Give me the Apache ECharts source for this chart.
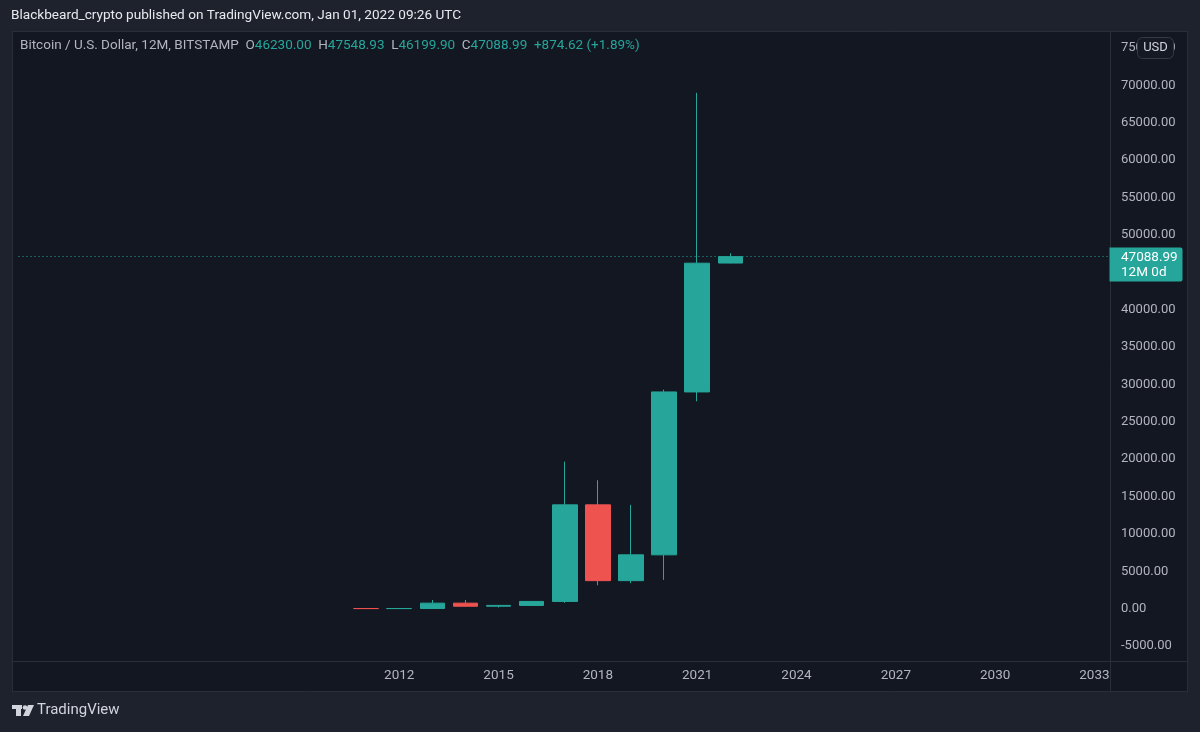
<!DOCTYPE html>
<html><head><meta charset="utf-8">
<script src="https://cdn.jsdelivr.net/npm/echarts@6/dist/echarts.min.js"></script>
<style>html,body{margin:0;padding:0;background:#1e222d;overflow:hidden}#c{width:1200px;height:732px;}</style>
</head><body><div id="c"></div>
<script>
// axis categories (yearly bars, visible time range)
const axisYears = ['2001','2002','2003','2004','2005','2006','2007','2008','2009','2010','2011','2012','2013','2014','2015','2016','2017','2018','2019','2020','2021','2022','2023','2024','2025','2026','2027','2028','2029','2030','2031','2032','2033'];
const xTickLabels = ['2012','2015','2018','2021','2024','2027','2030','2033'];
const candleYears = ['2011','2012','2013','2014','2015','2016','2017','2018','2019','2020','2021','2022'];
const opens  = [10.9, 4.72, 13.5, 732, 320, 430, 963, 13880, 3742, 7195, 28990, 46230.00];
const closes = [4.72, 13.5, 732, 320, 430, 963, 13880, 3742, 7195, 28990, 46214.37, 47088.99];
const lows   = [2.2, 3.9, 13.2, 275, 152, 350, 775, 3122, 3400, 3850, 27734, 46199.90];
const highs  = [15.0, 16.41, 1163, 1165, 495, 980, 19666, 17176, 13880, 29300, 69000, 47548.93];
const yTicks = {min: -5000, max: 75000, step: 5000};

const UP = '#26a69a', DOWN = '#ef5350', TXT = '#b2b5be', BORDER = '#2a2e39';
const candleData = candleYears.map((y, i) => [y, opens[i], closes[i], lows[i], highs[i]]);
const n = closes.length - 1;
const lastClose = closes[n];
const chg = closes[n] - closes[n - 1];
const pct = chg / closes[n - 1] * 100;

const chart = echarts.init(document.getElementById('c'), null, {renderer: 'canvas'});
const FONT = 'Roboto, "Noto Sans", sans-serif';

const headerText = '{t|Bitcoin / U.S. Dollar, 12M, BITSTAMP}  {k|O}{v|' + opens[n].toFixed(2) + '}  {k|H}{v|' + highs[n].toFixed(2) +
  '}  {k|L}{v|' + lows[n].toFixed(2) + '}  {k|C}{v|' + closes[n].toFixed(2) + '}  {v|' + (chg >= 0 ? '+' : '') + chg.toFixed(2) + ' (' + (pct >= 0 ? '+' : '') + pct.toFixed(2) + '%)}';

function staticGraphics(py) {
  return [
    {id: 'pane', type: 'rect', z: -10, shape: {x: 12.5, y: 31.5, width: 1175, height: 660}, style: {fill: '#131722', stroke: BORDER, lineWidth: 1}},
    {id: 'vdiv', type: 'line', z: -5, shape: {x1: 1110.5, y1: 31, x2: 1110.5, y2: 692}, style: {stroke: BORDER, lineWidth: 1}},
    {id: 'hdiv', type: 'line', z: -5, shape: {x1: 12, y1: 661.5, x2: 1188, y2: 661.5}, style: {stroke: BORDER, lineWidth: 1}},
    {id: 'title', type: 'text', left: 11, top: 9, style: {text: 'Blackbeard_crypto published on TradingView.com, Jan 01, 2022 09:26 UTC', fill: '#e8e9ee', font: '13.6px ' + FONT}},
    {id: 'header', type: 'text', left: 20, top: 39, z: 50, style: {
      text: headerText, font: '13.5px ' + FONT,
      rich: {t: {fill: '#b2b5be', fontSize: 13.5, fontFamily: FONT}, k: {fill: '#b2b5be', fontSize: 13.5, fontFamily: FONT}, v: {fill: UP, fontSize: 13.5, fontFamily: FONT}}
    }},
    {id: 'usdBox', type: 'rect', z: 100, zlevel: 1, shape: {x: 1137.5, y: 37.5, width: 36, height: 21, r: 5}, style: {fill: '#151924', stroke: '#363a45', lineWidth: 1}},
    {id: 'usdTxt', type: 'text', z: 101, zlevel: 1, style: {x: 1155.5, y: 48, text: 'USD', fill: '#d1d4dc', font: '13px ' + FONT, align: 'center', verticalAlign: 'middle'}},
    {id: 'logoA', type: 'rect', shape: {x: 12, y: 705, width: 10, height: 4}, style: {fill: '#d1d4dc'}},
    {id: 'logoB', type: 'rect', shape: {x: 16, y: 705, width: 5, height: 11}, style: {fill: '#d1d4dc'}},
    {id: 'logoC', type: 'circle', shape: {cx: 25, cy: 707.5, r: 2.3}, style: {fill: '#d1d4dc'}},
    {id: 'logoD', type: 'polygon', shape: {points: [[28, 705], [34, 705], [29, 716], [23, 716]]}, style: {fill: '#d1d4dc'}},
    {id: 'logoTxt', type: 'text', left: 37, top: 703, style: {text: 'TradingView', fill: '#d1d4dc', font: '15px ' + FONT}},
    {id: 'tagBox', type: 'rect', z: 100, zlevel: 1, shape: {x: 1109.5, y: py - 9.5, width: 73, height: 34, r: [0, 2, 2, 0]}, style: {fill: UP}},
    {id: 'tagP', type: 'text', z: 101, zlevel: 1, style: {x: 1121, y: py + 0.5, text: lastClose.toFixed(2), fill: '#ffffff', font: '13.5px ' + FONT, verticalAlign: 'middle'}},
    {id: 'tagT', type: 'text', z: 101, zlevel: 1, style: {x: 1121, y: py + 16, text: '12M 0d', fill: '#ffffff', font: '13.5px ' + FONT, verticalAlign: 'middle'}}
  ];
}

const option = {
  backgroundColor: '#1e222d',
  animation: false,
  grid: {left: 18.5, right: 89, top: 48, bottom: 86},
  xAxis: {
    type: 'category', data: axisYears, boundaryGap: true,
    axisLine: {show: false}, axisTick: {show: false}, splitLine: {show: false},
    axisLabel: {
      color: TXT, fontSize: 13.5, fontFamily: FONT, margin: 23,
      interval: (i, v) => xTickLabels.indexOf(v) >= 0
    }
  },
  yAxis: {
    type: 'value', position: 'right', scale: false,
    min: yTicks.min, max: yTicks.max, interval: yTicks.step,
    axisLine: {show: false}, axisTick: {show: false}, splitLine: {show: false},
    axisLabel: {color: TXT, fontSize: 13, fontFamily: FONT, margin: 10, formatter: v => v.toFixed(2)}
  },
  series: [{
    type: 'candlestick',
    data: candleData,
    encode: {x: 0, y: [1, 2, 3, 4]},
    barWidth: 25,
    itemStyle: {color: UP, color0: DOWN, borderColor: UP, borderColor0: DOWN, borderWidth: 1},
    markLine: {
      silent: true, symbol: ['none', 'none'],
      lineStyle: {color: UP, type: [1, 3], width: 1},
      label: {show: false},
      data: [{yAxis: lastClose}]
    },
    z: 5
  }],
  graphic: staticGraphics(-100)
};
chart.setOption(option);

const py = Math.round(chart.convertToPixel({yAxisIndex: 0}, lastClose));
chart.setOption({graphic: staticGraphics(py)});
</script>
</body></html>
